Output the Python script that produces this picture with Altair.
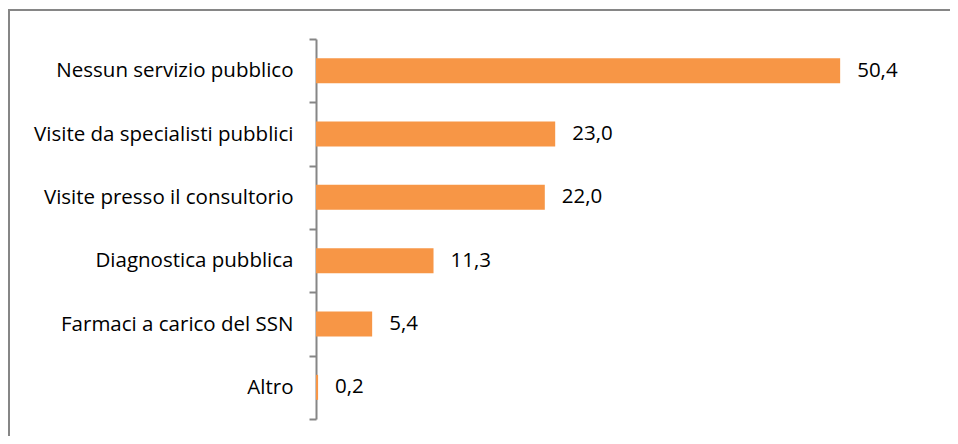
import altair as alt
import pandas as pd

categories = [
    "Nessun servizio pubblico",
    "Visite da specialisti pubblici",
    "Visite presso il consultorio",
    "Diagnostica pubblica",
    "Farmaci a carico del SSN",
    "Altro",
]
values = [50.4, 23.0, 22.0, 11.3, 5.4, 0.2]

df = pd.DataFrame({"cat": categories, "val": values})
df["lab"] = [f"{v:.1f}".replace(".", ",") for v in values]

FONT = "Open Sans"
FS = 20.5
W, H = 624, 380
PL, PT = 308, 31
PR, PB = 10, 17

y = alt.Y("cat:N", sort=categories, title=None,
          scale=alt.Scale(paddingInner=0, paddingOuter=0),
          axis=alt.Axis(domainColor="#868686", domainWidth=2, tickColor="#868686",
                        tickWidth=2, tickSize=7, tickBand="extent",
                        labelPadding=16, labelFontSize=FS, labelFont=FONT,
                        labelColor="#000000", labelLimit=400))
x = alt.X("val:Q", title=None, scale=alt.Scale(domain=[0, 60], nice=False), axis=None)

bars = alt.Chart(df).mark_bar(color="#F79646", size=25).encode(x=x, y=y)
texts = alt.Chart(df).mark_text(align="left", dx=17, fontSize=FS, font=FONT,
                                color="#000000").encode(x=x, y=alt.Y("cat:N", sort=categories), text="lab:N")

border = alt.Chart(df).mark_rect(fill=None, stroke="#868686", strokeWidth=2, clip=False).encode(
    x=alt.value(-PL + 1), x2=alt.value(W + 60), y=alt.value(-PT + 2), y2=alt.value(H + 60)
)

chart = alt.layer(border, bars, texts).properties(
    width=W, height=H,
    autosize=alt.AutoSizeParams(type="none"),
    padding={"left": PL, "top": PT, "right": PR, "bottom": PB},
).configure_view(stroke=None)

chart.save("out.html", embed_options={"renderer": "svg", "actions": False})
